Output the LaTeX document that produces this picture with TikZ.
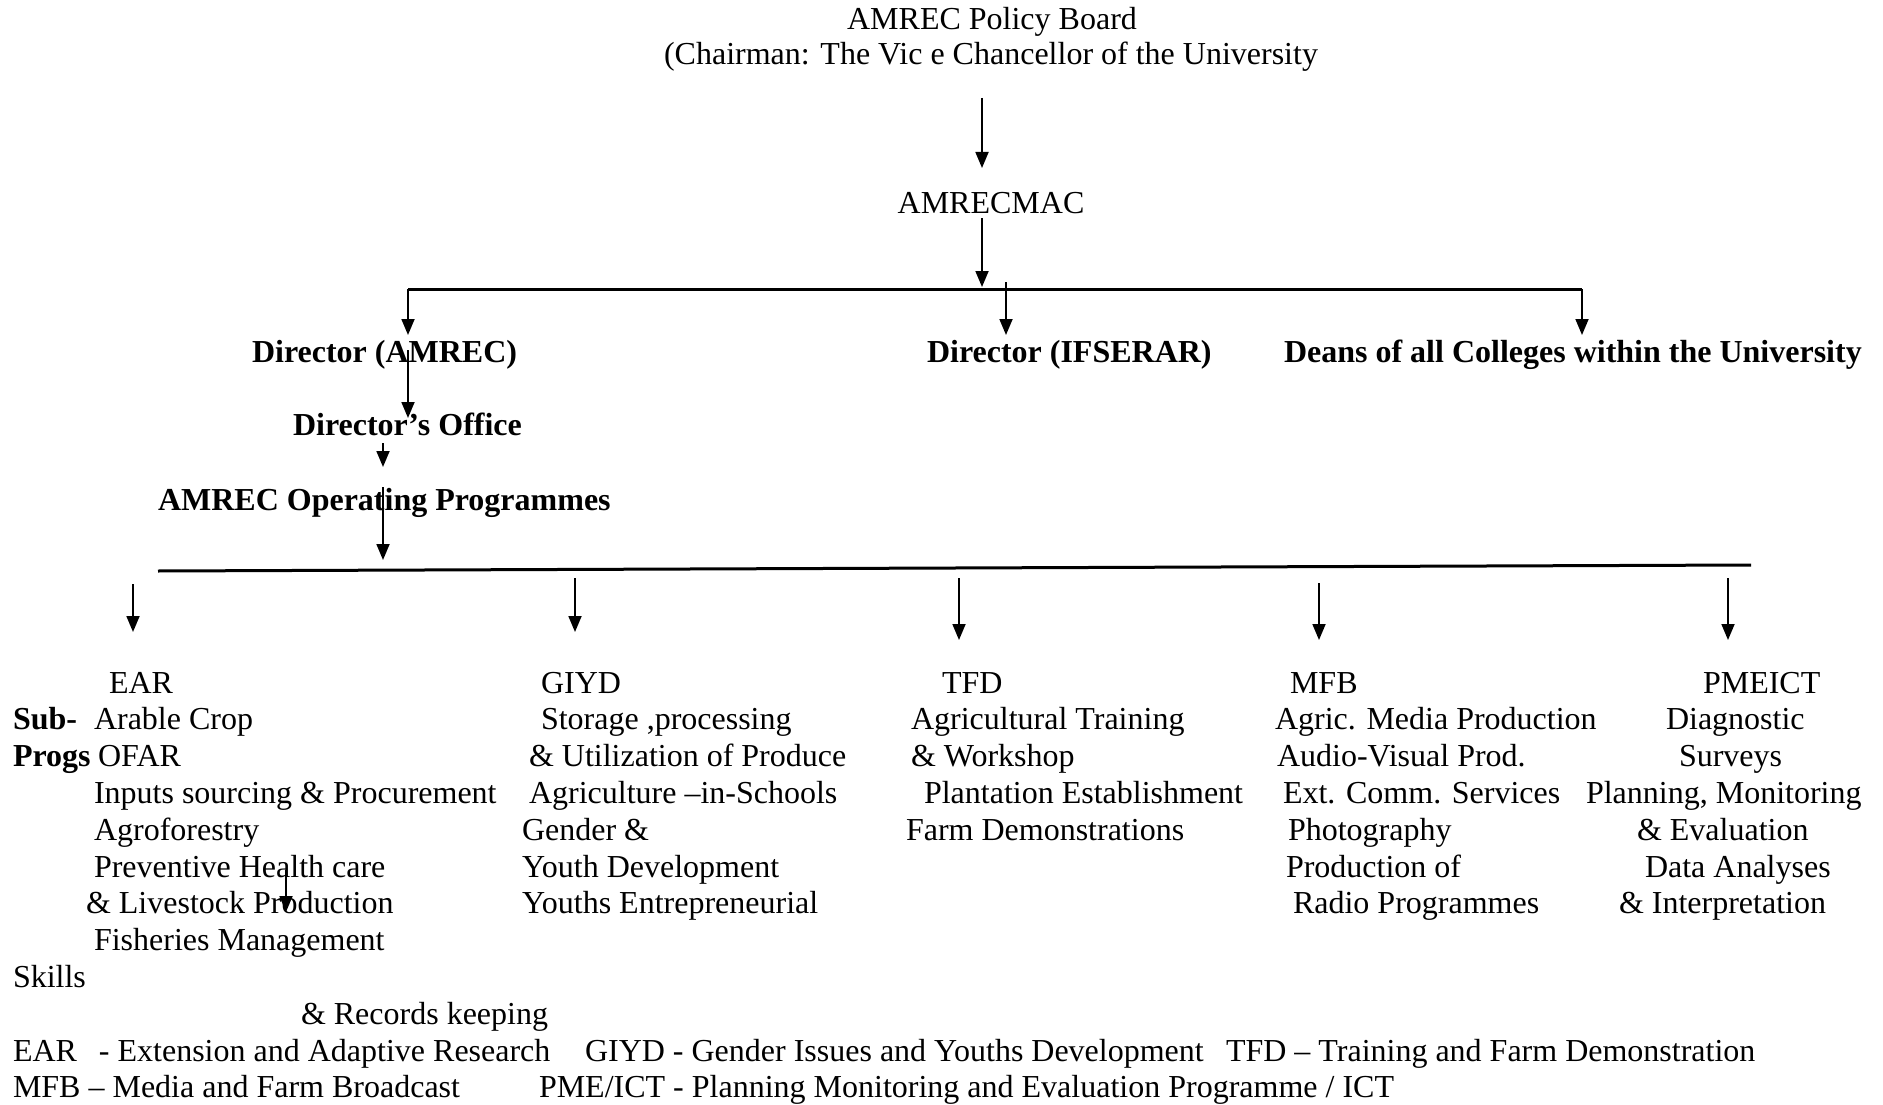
\documentclass[tikz,border=0pt]{standalone}
\usepackage{fontspec}
\setmainfont{Liberation Serif}
\usetikzlibrary{arrows.meta}
\begin{document}
\begin{tikzpicture}[x=1pt,y=-1pt,
  txt/.style={inner sep=0pt,outer sep=0pt,anchor=base west,font=\fontsize{32}{36.8}\selectfont},
  ctxt/.style={txt,anchor=base},
  btxt/.style={txt,font=\fontsize{32}{36.8}\selectfont\bfseries},
  arr/.style={line width=1.8pt,-{Triangle[length=16pt,width=13pt]}},
  bar/.style={line width=3pt}]
\useasboundingbox (0,0) rectangle (1883,1105);
% top
\node[ctxt] (board) at (992,30) {AMREC Policy Board};
\node[ctxt] (chair) at (991,65) {(Chairman: The Vic e Chancellor of the University};
\node[ctxt] (mac) at (991,213) {AMRECMAC};
\node[btxt] (dirA) at (252,362) {Director (AMREC)};
\node[btxt] (dirI) at (927,362) {Director (IFSERAR)};
\node[btxt] (deans) at (1284,362) {Deans of all Colleges within the University};
\node[btxt] (office) at (293,435) {Director’s Office};
\node[btxt] (oper) at (158,510) {AMREC Operating Programmes};
% connector coordinates
\coordinate (a1s) at (982,98);  \coordinate (a1e) at (982,168);
\coordinate (a2s) at (982,218); \coordinate (a2e) at (982,287);
\coordinate (hL) at (408,289);  \coordinate (hR) at (1582,289);
\coordinate (a3e) at (408,335);
\coordinate (a4s) at (1006,282); \coordinate (a4e) at (1006,335);
\coordinate (a5e) at (1582,335);
\coordinate (a6s) at (408,350); \coordinate (a6e) at (408,418);
\coordinate (a7s) at (383,443); \coordinate (a7e) at (383,467);
\coordinate (a8s) at (383,487); \coordinate (a8e) at (383,560);
\coordinate (gL) at (158,571);  \coordinate (gR) at (1751,565);
\coordinate (b1s) at (133,584); \coordinate (b1e) at (133,632);
\coordinate (b2s) at (575,578); \coordinate (b2e) at (575,632);
\coordinate (b3s) at (959,578); \coordinate (b3e) at (959,640);
\coordinate (b4s) at (1319,583); \coordinate (b4e) at (1319,640);
\coordinate (b5s) at (1728,578); \coordinate (b5e) at (1728,640);
\coordinate (c1s) at (286,870); \coordinate (c1e) at (286,912);
\draw[arr] (a1s) -- (a1e);
\draw[arr] (a2s) -- (a2e);
\draw[bar] (hL) -- (hR);
\draw[arr] (hL) -- (a3e);
\draw[arr] (a4s) -- (a4e);
\draw[arr] (hR) -- (a5e);
\draw[arr] (a6s) -- (a6e);
\draw[arr] (a7s) -- (a7e);
\draw[arr] (a8s) -- (a8e);
\draw[bar] (gL) -- (gR);
\draw[arr] (b1s) -- (b1e);
\draw[arr] (b2s) -- (b2e);
\draw[arr] (b3s) -- (b3e);
\draw[arr] (b4s) -- (b4e);
\draw[arr] (b5s) -- (b5e);
\draw[arr] (c1s) -- (c1e);
% row 0
\node[txt] (ear) at (109,693) {EAR};
\node[txt] (giyd) at (541,693) {GIYD};
\node[txt] (tfd) at (942,693) {TFD};
\node[txt] (mfb) at (1290,693) {MFB};
\node[txt] (pme) at (1703,693) {PMEICT};
% row 1
\node[btxt] (sub) at (13,729.8) {Sub-};
\node[txt] (e1) at (94,729.8) {Arable Crop};
\node[txt] (g1) at (541,729.8) {Storage ,processing};
\node[txt] (t1) at (911,729.8) {Agricultural Training};
\node[txt] (m1) at (1275,729.8) {Agric. Media Production};
\node[txt] (p1) at (1666,729.8) {Diagnostic};
% row 2
\node[btxt] (progs) at (13,766.6) {Progs};
\node[txt] (e2) at (98,766.6) {OFAR};
\node[txt] (g2) at (529,766.6) {\& Utilization of Produce};
\node[txt] (t2) at (911,766.6) {\& Workshop};
\node[txt] (m2) at (1277,766.6) {Audio-Visual Prod.};
\node[txt] (p2) at (1679,766.6) {Surveys};
% row 3
\node[txt] (e3) at (94,803.4) {Inputs sourcing \& Procurement};
\node[txt] (g3) at (529,803.4) {Agriculture –in-Schools};
\node[txt] (t3) at (924,803.4) {Plantation Establishment};
\node[txt] (m3) at (1283,803.4) {Ext. Comm. Services};
\node[txt] (p3) at (1586,803.4) {Planning, Monitoring};
% row 4
\node[txt] (e4) at (94,840.2) {Agroforestry};
\node[txt] (g4) at (522,840.2) {Gender \&};
\node[txt] (t4) at (906,840.2) {Farm Demonstrations};
\node[txt] (m4) at (1288,840.2) {Photography};
\node[txt] (p4) at (1637,840.2) {\& Evaluation};
% row 5
\node[txt] (e5) at (94,877) {Preventive Health care};
\node[txt] (g5) at (522,877) {Youth Development};
\node[txt] (m5) at (1286,877) {Production of};
\node[txt] (p5) at (1645,877) {Data Analyses};
% row 6
\node[txt] (e6) at (86,913.8) {\& Livestock Production};
\node[txt] (g6) at (522,913.8) {Youths Entrepreneurial};
\node[txt] (m6) at (1293,913.8) {Radio Programmes};
\node[txt] (p6) at (1619,913.8) {\& Interpretation};
% rows 7-9
\node[txt] (e7) at (94,950.6) {Fisheries Management};
\node[txt] (skills) at (13,987.4) {Skills};
\node[txt] (records) at (301,1024.2) {\& Records keeping};
% legend
\node[txt] (leg1) at (13,1061) {EAR\hspace{22pt}- Extension and Adaptive Research};
\node[txt] (leg2) at (585,1061) {GIYD - Gender Issues and Youths Development};
\node[txt] (leg3) at (1226,1061) {TFD – Training and Farm Demonstration};
\node[txt] (leg4) at (13,1097.8) {MFB – Media and Farm Broadcast};
\node[txt] (leg5) at (539,1097.8) {PME/ICT - Planning Monitoring and Evaluation Programme / ICT};
\end{tikzpicture}
\end{document}
